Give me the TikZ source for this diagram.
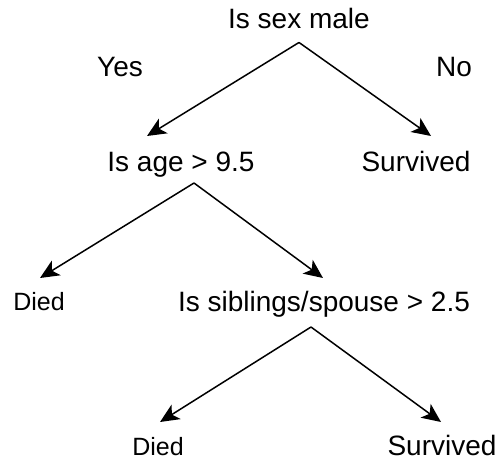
\documentclass[tikz,border=0pt]{standalone}
\usepackage{fontspec}
\setmainfont{Liberation Sans}
\usetikzlibrary{arrows.meta}

\tikzset{
  question/.style={inner sep=0pt, anchor=base, font=\fontsize{28}{33}\selectfont},
  answer/.style={question},
  died/.style={question, font=\fontsize{25}{30}\selectfont},
  arr/.style={-{Stealth[length=19pt,width=17pt,inset=5pt]}, line width=1.5pt},
}

\begin{document}
\begin{tikzpicture}[x=1pt,y=-1pt]
\useasboundingbox (0,0) rectangle (497,462);
% tree nodes
\node[question] (sex) at (299,29) {Is sex male};
\node[question] (yes) at (120,77) {Yes};
\node[question] (no) at (454,77) {No};
\node[question] (age) at (181,172) {Is age > 9.5};
\node[answer] (surv1) at (416,172) {Survived};
\node[died] (died1) at (39,310) {Died};
\node[question] (sib) at (324,311) {Is siblings/spouse > 2.5};
\node[died] (died2) at (158,455) {Died};
\node[answer] (surv2) at (442,455) {Survived};
% arrow tips
\coordinate (age-in) at (147,136);
\coordinate (surv1-in) at (431,136);
\coordinate (died1-in) at (40,278);
\coordinate (sib-in) at (323,278);
\coordinate (died2-in) at (160,422);
\coordinate (surv2-in) at (441,422);
\draw[arr] ([yshift=-13pt]sex.south) -- (age-in);
\draw[arr] ([yshift=-13pt]sex.south) -- (surv1-in);
\draw[arr] ([xshift=13pt,yshift=-5pt]age.south) -- (died1-in);
\draw[arr] ([xshift=13pt,yshift=-5pt]age.south) -- (sib-in);
\draw[arr] ([xshift=-13pt,yshift=-10pt]sib.south) -- (died2-in);
\draw[arr] ([xshift=-13pt,yshift=-10pt]sib.south) -- (surv2-in);
\end{tikzpicture}
\end{document}
